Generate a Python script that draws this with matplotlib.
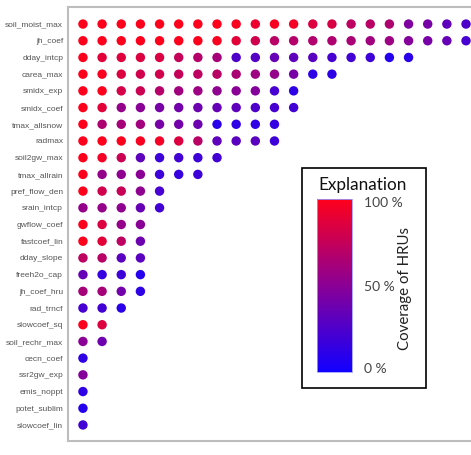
import numpy as np
import matplotlib
matplotlib.use("Agg")
import matplotlib.pyplot as plt
from matplotlib.colors import LinearSegmentedColormap, Normalize
from matplotlib.cm import ScalarMappable
from matplotlib.patches import Rectangle

# parameter names, top to bottom
params = ["soil_moist_max", "jh_coef", "dday_intcp", "carea_max", "smidx_exp",
          "smidx_coef", "tmax_allsnow", "radmax", "soil2gw_max", "tmax_allrain",
          "pref_flow_den", "srain_intcp", "gwflow_coef", "fastcoef_lin",
          "dday_slope", "freeh2o_cap", "jh_coef_hru", "rad_trncf", "slowcoef_sq",
          "soil_rechr_max", "cecn_coef", "ssr2gw_exp", "emis_noppt",
          "potet_sublim", "slowcoef_lin"]

# coverage of HRUs (%) for each dot in a row, left to right
coverage = [
    [100, 100, 100, 100, 100, 100, 100, 100, 98, 92, 98, 96, 85, 83, 72, 70, 66, 45, 42, 32, 25],
    [100, 100, 100, 100, 100, 100, 100, 98, 88, 80, 70, 68, 67, 66, 63, 60, 58, 48, 42, 35, 22],
    [100, 88, 86, 85, 84, 75, 68, 62, 25, 28, 35, 32, 30, 22, 20, 18, 8, 10],
    [100, 98, 85, 80, 80, 75, 72, 70, 64, 58, 55, 42, 12, 12],
    [100, 100, 82, 78, 68, 60, 58, 52, 50, 48, 22, 12],
    [100, 88, 55, 50, 42, 40, 38, 35, 32, 25, 22, 20],
    [100, 65, 62, 60, 42, 40, 38, 10, 12, 12, 15],
    [100, 100, 100, 98, 96, 85, 70, 32, 30, 30, 18],
    [100, 96, 78, 32, 18, 20, 18, 20],
    [100, 55, 52, 50, 18, 15, 18],
    [100, 80, 76, 52, 22],
    [55, 55, 52, 35, 20],
    [100, 85, 55, 50],
    [100, 88, 72, 38],
    [72, 70, 30, 30],
    [35, 15, 18, 8],
    [62, 62, 40, 12],
    [22, 20, 10],
    [100, 85],
    [50, 38],
    [12],
    [48],
    [12],
    [8],
    [20],
]

cb_ticks = ["0 %", "50 %", "100 %"]

cmap = LinearSegmentedColormap.from_list(
    "cov", [(0.0, "#1200ff"), (0.5, "#8a0096"), (1.0, "#ff001c")])
norm = Normalize(0, 100)

fig = plt.figure(figsize=(4.71, 4.55), dpi=100)
ax = fig.add_axes([68 / 471, 1 - 441 / 455, (480 - 68) / 471, (441 - 7) / 455])

xs, ys, vs = [], [], []
for i, row in enumerate(coverage):
    for j, v in enumerate(row):
        xs.append(j)
        ys.append(i)
        vs.append(v)
ax.scatter(xs, ys, c=vs, cmap=cmap, norm=norm, s=46, linewidths=0)

ax.set_xlim(-0.78, 20.73)
ax.set_ylim(24.96, -1.02)
ax.set_xticks([])
ax.set_yticks(range(len(params)))
ax.set_yticklabels(params, fontsize=6.0, color="#555555", family="Liberation Sans")
ax.tick_params(axis="y", length=0, pad=3.5)
for side in ["left", "top", "bottom"]:
    ax.spines[side].set_color("#bdbdbd")
    ax.spines[side].set_linewidth(1.5)
ax.spines["right"].set_visible(False)

# legend box
W, H = 471, 455
fig.patches.append(Rectangle((302 / W, 1 - 388 / H), 124 / W, 220 / H,
                             transform=fig.transFigure, fill=False,
                             edgecolor="black", linewidth=1.2))
fig.text(363 / W, 1 - 185 / H, "Explanation", ha="center", va="center",
         fontsize=12.3, family="Lato", color="#111111")
cax = fig.add_axes([317 / W, 1 - 372 / H, 35 / W, 173 / H])
cb = fig.colorbar(ScalarMappable(norm=norm, cmap=cmap), cax=cax)
cb.set_ticks([])
cb.outline.set_edgecolor("#9a9aff")
cb.outline.set_linewidth(0.6)
for val, y in zip(cb_ticks, [369, 287, 203]):
    fig.text(364 / W, 1 - y / H, val, ha="left", va="center",
             fontsize=10, family="Lato", color="#444444")
fig.text(405 / W, 1 - 289 / H, "Coverage of HRUs", rotation=90,
         ha="center", va="center", fontsize=10.8, family="Lato", color="#222222")

fig.savefig("out.png", dpi=100)
